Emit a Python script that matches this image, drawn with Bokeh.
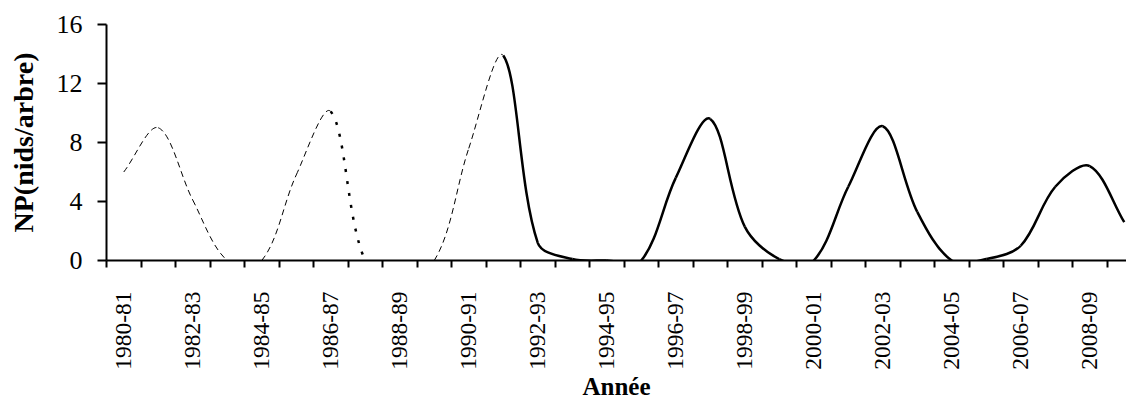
import math
from bokeh.plotting import figure
from bokeh.models import FixedTicker, Range1d, CustomJSTickFormatter
from bokeh.embed import file_html
from bokeh.resources import INLINE

# ---- data ----
seasons = [f"{y}-{str(y + 1)[-2:]}" for y in range(1980, 2010)]
np_values = [6.0, 9.0, 4.1, 0.0, 0.0, 5.8, 10.1, 0.0, 0.0, 0.0,
             7.6, 13.9, 1.2, 0.1, 0.0, 0.0, 5.6, 9.6, 2.3, 0.1,
             0.0, 5.0, 9.1, 3.3, 0.0, 0.1, 1.0, 5.0, 6.4, 2.6]
# style of the segment that starts at each season (last one unused)
seg_style = ["dash"] * 6 + ["dot"] + ["dash"] * 4 + ["solid"] * 19
y_ticks = [0, 4, 8, 12, 16]
x_title = "Année"
y_title = "NP(nids/arbre)"

FONT = "Liberation Serif"

W, H = 1126, 402
BL, BT, BR = 106, 24, 0
FRAME_H = 236
BB = H - BT - FRAME_H
PX_X = 34.5                      # pixels per season
X_END = (W - BL - BR) / PX_X
PX_Y = FRAME_H / 16.0            # pixels per unit

p = figure(width=W, height=H, x_range=Range1d(0, X_END), y_range=Range1d(0, 16),
           output_backend="svg", toolbar_location=None,
           min_border_left=BL, min_border_right=BR, min_border_top=BT, min_border_bottom=BB)
p.outline_line_color = None
p.grid.visible = False
p.background_fill_color = "white"

# Smoothed line (Excel-like): Bezier segments, handles proportional to
# neighbouring segment lengths measured in screen space.
xs = [i + 0.5 for i in range(len(np_values))]
ys = np_values
n = len(xs)
sx = [x * PX_X for x in xs]
sy = [y * PX_Y for y in ys]


def dist(a, b):
    return math.hypot(sx[b] - sx[a], sy[b] - sy[a])


after = [None] * n
before = [None] * n
for k in range(n):
    if k == 0:
        tx, ty = sx[1] - sx[0], sy[1] - sy[0]
        after[k] = (sx[k] + tx / 3, sy[k] + ty / 3)
        continue
    if k == n - 1:
        tx, ty = sx[k] - sx[k - 1], sy[k] - sy[k - 1]
        before[k] = (sx[k] - tx / 3, sy[k] - ty / 3)
        continue
    tx, ty = sx[k + 1] - sx[k - 1], sy[k + 1] - sy[k - 1]
    d0, d1 = dist(k - 1, k), dist(k, k + 1)
    f0 = d0 / (d0 + d1) / 3
    f1 = d1 / (d0 + d1) / 3
    before[k] = (sx[k] - tx * f0, sy[k] - ty * f0)
    after[k] = (sx[k] + tx * f1, sy[k] + ty * f1)

groups = {s: dict(x0=[], y0=[], x1=[], y1=[], cx0=[], cy0=[], cx1=[], cy1=[])
          for s in ("dash", "dot", "solid")}
for k in range(n - 1):
    g = groups[seg_style[k]]
    g["x0"].append(xs[k]); g["y0"].append(ys[k])
    g["x1"].append(xs[k + 1]); g["y1"].append(ys[k + 1])
    g["cx0"].append(after[k][0] / PX_X); g["cy0"].append(after[k][1] / PX_Y)
    g["cx1"].append(before[k + 1][0] / PX_X); g["cy1"].append(before[k + 1][1] / PX_Y)

common = dict(x0="x0", y0="y0", x1="x1", y1="y1", cx0="cx0", cy0="cy0", cx1="cx1", cy1="cy1",
              line_color="black")
p.bezier(source=groups["dash"], line_width=1, line_dash="6 4", **common)
p.bezier(source=groups["dot"], line_width=2.5, line_dash="3 9", **common)
p.bezier(source=groups["solid"], line_width=2.5, **common)

# x axis
xa = p.xaxis[0]
xa.ticker = FixedTicker(ticks=[i + 0.5 for i in range(0, len(seasons), 2)],
                        minor_ticks=list(range(0, len(seasons) + 1)))
xa.formatter = CustomJSTickFormatter(args=dict(labels=seasons),
                                     code="return labels[Math.floor(tick)] || '';")
xa.major_label_orientation = math.pi / 2
xa.major_tick_out = 0
xa.major_tick_in = 0
xa.minor_tick_out = 7
xa.minor_tick_in = 0
xa.minor_tick_line_width = 2
xa.minor_tick_line_color = "black"
xa.axis_line_width = 2
xa.axis_line_color = "black"
xa.major_label_text_font = FONT
xa.major_label_text_font_size = "23.5px"
xa.major_label_text_color = "black"
xa.major_label_standoff = 24
xa.axis_label = x_title
xa.axis_label_text_font = FONT
xa.axis_label_text_font_style = "bold"
xa.axis_label_text_font_size = "25px"
xa.axis_label_text_color = "black"
xa.axis_label_standoff = 0

# y axis
ya = p.yaxis[0]
ya.ticker = FixedTicker(ticks=y_ticks)
ya.major_tick_out = 9
ya.major_tick_in = 0
ya.major_tick_line_width = 2
ya.major_tick_line_color = "black"
ya.minor_tick_out = 0
ya.minor_tick_in = 0
ya.axis_line_width = 2
ya.axis_line_color = "black"
ya.major_label_text_font = FONT
ya.major_label_text_font_size = "26px"
ya.major_label_text_color = "black"
ya.major_label_standoff = 15
ya.axis_label = y_title
ya.axis_label_text_font = FONT
ya.axis_label_text_font_style = "bold"
ya.axis_label_text_font_size = "28px"
ya.axis_label_text_color = "black"
ya.axis_label_standoff = 15

open("out.html", "w").write(file_html(p, INLINE))
